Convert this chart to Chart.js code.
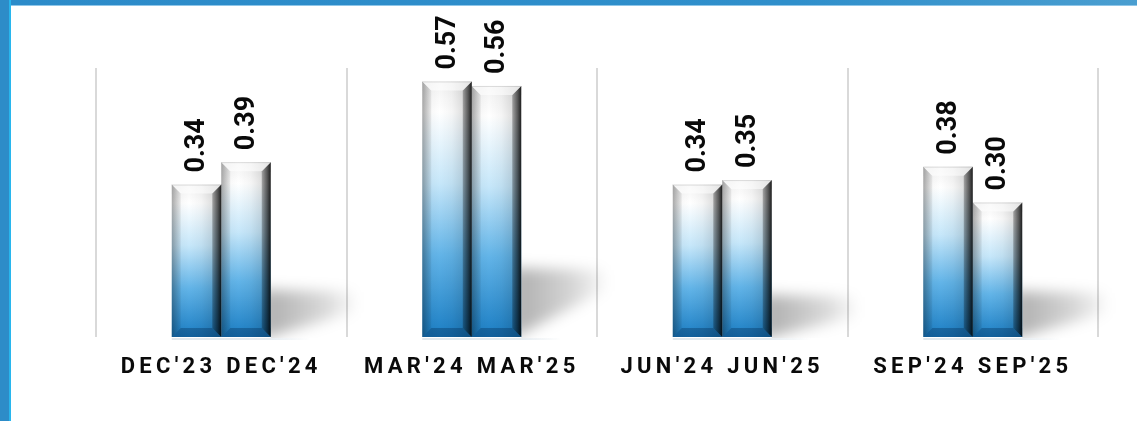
<!DOCTYPE html>
<html>
<head>
<meta charset="utf-8">
<script src="https://cdn.jsdelivr.net/npm/chart.js@4.4.1/dist/chart.umd.min.js"></script>
<style>
  html, body { margin: 0; padding: 0; background: #fff; overflow: hidden; }
  #wrap { position: relative; width: 1137px; height: 421px; }
  #eps { position: absolute; left: 0; top: 0; }
  .edge-top { position: absolute; left: 0; top: 0; width: 1137px; height: 5px;
    background: linear-gradient(to right, #2c8bc9, #2f8fcb 70%, #4a9ed0);
    border-bottom: 1px solid #8fc6e8; }
  .edge-left { position: absolute; left: 0; top: 0; width: 9px; height: 421px;
    background: #2d8cc8; border-right: 2px solid #28b6ee; }
</style>
</head>
<body>
<div id="wrap">
  <canvas id="eps" width="1137" height="421"></canvas>
  <div class="edge-top"></div>
  <div class="edge-left"></div>
</div>
<script>
// Quarter pairs: previous year vs current year
const prevQuarters = ["DEC'23", "MAR'24", "JUN'24", "SEP'24"];
const currQuarters = ["DEC'24", "MAR'25", "JUN'25", "SEP'25"];
const prevValues = [0.34, 0.57, 0.34, 0.38];
const currValues = [0.39, 0.56, 0.35, 0.30];

const labels = prevQuarters.map((q, i) => q + ' ' + currQuarters[i]);

// vertical gradient: white top fading into blue at the base of each bar
function barFill(context) {
  const chart = context.chart;
  const area = chart.chartArea;
  if (!area || context.type !== 'data') return '#5aaee3';
  const y = chart.scales.y;
  const top = y.getPixelForValue(context.raw);
  const base = y.getPixelForValue(0);
  const g = chart.ctx.createLinearGradient(0, top, 0, base);
  g.addColorStop(0, '#f2f2f2');
  g.addColorStop(0.12, '#ffffff');
  g.addColorStop(0.4, '#c6e7fa');
  g.addColorStop(0.68, '#62b4e8');
  g.addColorStop(1, '#1b7ec4');
  return g;
}

// floor shadow behind each pair, bevelled edges, rotated value labels
const bevelPlugin = {
  id: 'bevel',
  beforeDraw(chart) {
    chart.ctx.letterSpacing = '4.3px';
  },
  beforeDatasetsDraw(chart) {
    const ctx = chart.ctx;
    ctx.letterSpacing = '0px';
    const m0 = chart.getDatasetMeta(0).data;
    const m1 = chart.getDatasetMeta(1).data;
    m1.forEach((bar, i) => {
      const first = m0[i];
      const base = bar.base;
      const h = base - Math.min(bar.y, first.y);
      const s = h * 0.27;
      const xr = bar.x + bar.width / 2;
      ctx.save();
      ctx.beginPath();
      ctx.rect(xr, chart.chartArea.top, 120, base - chart.chartArea.top + 1);
      ctx.clip();
      ctx.filter = 'blur(7px)';
      const g = ctx.createLinearGradient(xr, 0, xr + 85, 0);
      g.addColorStop(0, 'rgba(0,0,0,0.3)');
      g.addColorStop(0.6, 'rgba(0,0,0,0.16)');
      g.addColorStop(1, 'rgba(0,0,0,0.02)');
      ctx.fillStyle = g;
      ctx.beginPath();
      ctx.moveTo(xr - 10, base - s);
      ctx.lineTo(xr + 82, base - s + 2);
      ctx.lineTo(xr + 84, base - s + 22);
      ctx.lineTo(xr - 10, base + 2);
      ctx.closePath();
      ctx.fill();
      ctx.restore();
      // faint floor line under the pair
      ctx.save();
      const fl = ctx.createLinearGradient(first.x - first.width / 2, 0, xr + 40, 0);
      fl.addColorStop(0, 'rgba(170,190,205,0.35)');
      fl.addColorStop(0.7, 'rgba(170,190,205,0.3)');
      fl.addColorStop(1, 'rgba(170,190,205,0)');
      ctx.fillStyle = fl;
      ctx.fillRect(first.x - first.width / 2, base + 1, xr + 40 - (first.x - first.width / 2), 2);
      ctx.restore();
    });
  },
  afterDatasetsDraw(chart) {
    const ctx = chart.ctx;
    chart.data.datasets.forEach((ds, di) => {
      chart.getDatasetMeta(di).data.forEach((bar, i) => {
        const l = bar.x - bar.width / 2, r = bar.x + bar.width / 2;
        const t = bar.y, b = bar.base, e = 9;
        ctx.save();
        // inner face shading
        const hs = ctx.createLinearGradient(l, 0, r, 0);
        hs.addColorStop(0, 'rgba(0,0,0,0.05)');
        hs.addColorStop(0.35, 'rgba(0,0,0,0)');
        hs.addColorStop(0.6, 'rgba(0,0,0,0.04)');
        hs.addColorStop(1, 'rgba(0,0,0,0.2)');
        ctx.fillStyle = hs;
        ctx.fillRect(l, t, r - l, b - t);
        // left bevel
        const lg = ctx.createLinearGradient(l, 0, l + e, 0);
        lg.addColorStop(0, 'rgba(0,0,0,0.3)');
        lg.addColorStop(1, 'rgba(0,0,0,0.06)');
        ctx.fillStyle = lg;
        ctx.beginPath();
        ctx.moveTo(l, t); ctx.lineTo(l + e, t + e); ctx.lineTo(l + e, b - e); ctx.lineTo(l, b);
        ctx.closePath(); ctx.fill();
        // right bevel
        const rg = ctx.createLinearGradient(r - e, 0, r, 0);
        rg.addColorStop(0, 'rgba(0,0,0,0.25)');
        rg.addColorStop(0.6, 'rgba(0,0,0,0.58)');
        rg.addColorStop(1, 'rgba(0,0,0,0.85)');
        ctx.fillStyle = rg;
        ctx.beginPath();
        ctx.moveTo(r, t); ctx.lineTo(r, b); ctx.lineTo(r - e, b - e); ctx.lineTo(r - e, t + e);
        ctx.closePath(); ctx.fill();
        // top bevel
        ctx.fillStyle = 'rgba(255,255,255,0.55)';
        ctx.beginPath();
        ctx.moveTo(l, t); ctx.lineTo(r, t); ctx.lineTo(r - e, t + e); ctx.lineTo(l + e, t + e);
        ctx.closePath(); ctx.fill();
        ctx.fillStyle = 'rgba(0,0,0,0.12)';
        ctx.fillRect(l, t, r - l, 1);
        // bottom bevel
        ctx.fillStyle = 'rgba(0,35,70,0.32)';
        ctx.beginPath();
        ctx.moveTo(l, b); ctx.lineTo(r, b); ctx.lineTo(r - e, b - e); ctx.lineTo(l + e, b - e);
        ctx.closePath(); ctx.fill();
        ctx.restore();

        // value label, reading upwards
        ctx.save();
        ctx.translate(bar.x, t - 12);
        ctx.rotate(-Math.PI / 2);
        ctx.font = 'bold 27px Roboto, "Liberation Sans", sans-serif';
        ctx.fillStyle = '#0a0a0a';
        ctx.textAlign = 'left';
        ctx.textBaseline = 'middle';
        ctx.fillText(ds.data[i].toFixed(2), 0, 1);
        ctx.restore();
      });
    });
  }
};

new Chart(document.getElementById('eps'), {
  type: 'bar',
  data: {
    labels: labels,
    datasets: [
      { label: 'Previous', data: prevValues, backgroundColor: barFill },
      { label: 'Current', data: currValues, backgroundColor: barFill }
    ]
  },
  options: {
    responsive: false,
    animation: false,
    layout: { padding: { left: 96, right: 39, top: 68, bottom: 0 } },
    datasets: {
      bar: { categoryPercentage: 0.395, barPercentage: 1.0, borderWidth: 0 }
    },
    plugins: {
      legend: { display: false },
      tooltip: { enabled: false }
    },
    scales: {
      x: {
        grid: { display: true, offset: true, color: '#d9d9d9', lineWidth: 2, drawTicks: false },
        border: { display: false },
        ticks: {
          color: '#0a0a0a',
          font: { family: 'Roboto', size: 22, weight: 'bold' },
          padding: 17,
          maxRotation: 0,
          autoSkip: false
        },
        afterFit(scale) { scale.height = 84; }
      },
      y: {
        display: false,
        min: 0,
        max: 0.6
      }
    }
  },
  plugins: [bevelPlugin]
});
</script>
</body>
</html>
